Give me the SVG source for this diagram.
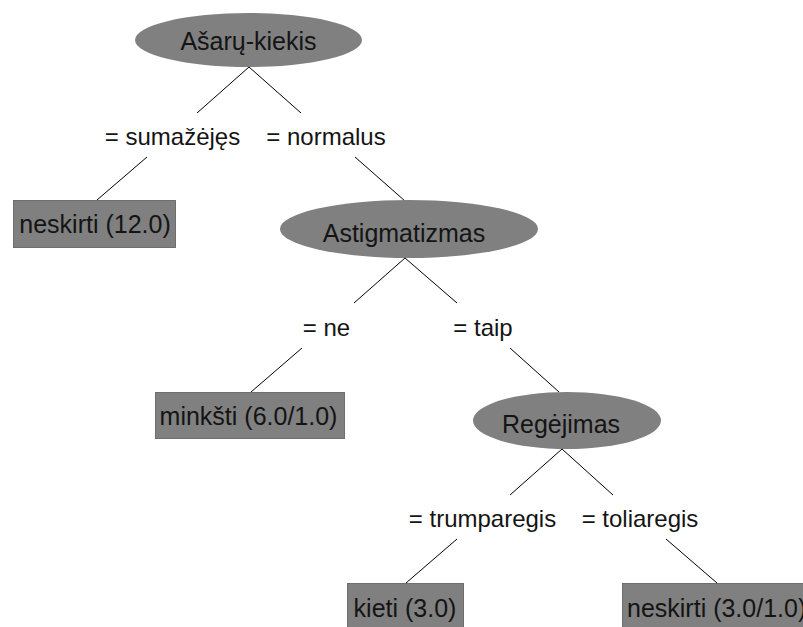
<svg xmlns="http://www.w3.org/2000/svg" width="803" height="627" viewBox="0 0 803 627">
  <style>
    .node ellipse { fill: #808080; }
    .leaf rect { fill: #808080; stroke: #6e6e6e; stroke-width: 1; }
    text { font-family: "Liberation Sans", Arial, sans-serif; font-size: 24px; fill: #141414; }
    .node text, .leaf text { font-size: 25px; }
    .mid { text-anchor: middle; }
    #edges line { stroke: #000; stroke-width: 1; }
  </style>
  <rect width="803" height="627" fill="#ffffff"/>

  <!-- connectors and branch labels -->
  <g id="edges">
    <line x1="249" y1="67" x2="197" y2="113"/>
    <line x1="249" y1="67" x2="301" y2="113"/>
    <line x1="147" y1="157" x2="97" y2="200"/>
    <line x1="355" y1="157" x2="405" y2="201"/>
    <line x1="405" y1="258" x2="354" y2="303"/>
    <line x1="405" y1="258" x2="457" y2="303"/>
    <line x1="302" y1="348" x2="251" y2="392"/>
    <line x1="510" y1="348" x2="559" y2="392"/>
    <line x1="562" y1="449" x2="510" y2="495"/>
    <line x1="562" y1="449" x2="613" y2="495"/>
    <line x1="457" y1="539" x2="406" y2="583"/>
    <line x1="666" y1="539" x2="717" y2="583"/>
  </g>
  <g id="branch-labels">
    <text class="mid" x="172.5" y="145">= sumažėjęs</text>
    <text class="mid" x="326" y="145">= normalus</text>
    <text class="mid" x="326.5" y="336">= ne</text>
    <text class="mid" x="483" y="336">= taip</text>
    <text class="mid" x="482.5" y="527">= trumparegis</text>
    <text class="mid" x="640" y="527">= toliaregis</text>
  </g>

  <!-- decision nodes -->
  <g id="node-asaru-kiekis" class="node">
    <ellipse cx="248.5" cy="40" rx="113.5" ry="27"/>
    <text class="mid" x="248.5" y="50">Ašarų-kiekis</text>
  </g>
  <g id="node-astigmatizmas" class="node">
    <ellipse cx="409" cy="229" rx="129" ry="29"/>
    <text class="mid" x="404" y="242">Astigmatizmas</text>
  </g>
  <g id="node-regejimas" class="node">
    <ellipse cx="567" cy="420.5" rx="94" ry="28.5"/>
    <text class="mid" x="561" y="433">Regėjimas</text>
  </g>

  <!-- leaves -->
  <g id="leaf-neskirti-12" class="leaf">
    <rect x="13.5" y="200.5" width="162" height="47"/>
    <text class="mid" x="95" y="233">neskirti (12.0)</text>
  </g>
  <g id="leaf-minksti" class="leaf">
    <rect x="155.5" y="392.5" width="189" height="46"/>
    <text class="mid" x="248.5" y="425">minkšti (6.0/1.0)</text>
  </g>
  <g id="leaf-kieti" class="leaf">
    <rect x="347.5" y="583.5" width="116" height="50"/>
    <text class="mid" x="405" y="617">kieti (3.0)</text>
  </g>
  <g id="leaf-neskirti-3" class="leaf">
    <rect x="622.5" y="583.5" width="190" height="50"/>
    <text x="627" y="617">neskirti (3.0/1.0)</text>
  </g>
</svg>
